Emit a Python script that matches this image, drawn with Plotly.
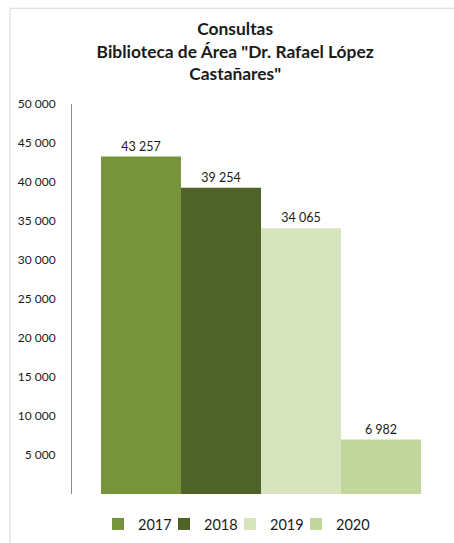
import plotly.graph_objects as go

# ---- data ----
years = ["2017", "2018", "2019", "2020"]
consultas = [43257, 39254, 34065, 6982]
tick_values = [5000, 10000, 15000, 20000, 25000, 30000, 35000, 40000, 45000, 50000]
tick_labels = ["5 000", "10 000", "15 000", "20 000", "25 000", "30 000",
               "35 000", "40 000", "45 000", "50 000"]
category = ["Consultas"]

# ---- styles ----
bar_colors = ["#77933C", "#4F6228", "#D7E4BD", "#C3D69B"]
FONT = "Lato, Carlito, Calibri, 'Open Sans', sans-serif"
PLOT_L, PLOT_W, PLOT_H = 72, 378, 391
legend_px = [98, 164, 230, 296]   # left edge of each legend entry (px)

fig = go.Figure()
for i, (yr, val, col) in enumerate(zip(years, consultas, bar_colors)):
    lg = "legend" if i == 0 else f"legend{i + 1}"
    fig.add_trace(go.Bar(
        x=category, y=[val], name=yr, legend=lg,
        marker=dict(color=col, line=dict(width=0)),
        text=[val], texttemplate="%{y:,}", textposition="outside",
        textfont=dict(family=FONT, size=12.5, color="#1a1a1a"),
        cliponaxis=False, hoverinfo="skip",
    ))

legend_layouts = {}
for i, px in enumerate(legend_px):
    key = "legend" if i == 0 else f"legend{i + 1}"
    legend_layouts[key] = dict(
        orientation="h", x=(px - PLOT_L) / PLOT_W, xanchor="left",
        y=-29 / PLOT_H, yanchor="middle", bgcolor="rgba(0,0,0,0)",
        font=dict(family=FONT, size=14.5, color="#1a1a1a"),
    )

fig.update_layout(
    width=454, height=543,
    margin=dict(l=72, r=4, t=104, b=48),
    paper_bgcolor="white", plot_bgcolor="white",
    separators=". ",
    barmode="group", bargap=0.1534, bargroupgap=0,
    font=dict(family=FONT, color="#1a1a1a"),
    title=dict(
        text="<b>Consultas<br>Biblioteca de Área \"Dr. Rafael López<br>Castañares\"</b>",
        x=0.518, xref="container", xanchor="center",
        y=1 - 35 / 543, yref="container", yanchor="top",
        font=dict(family=FONT, size=17.4, color="#1a1a1a"),
    ),
    xaxis=dict(showticklabels=False, showline=False, showgrid=False,
               zeroline=False, ticks=""),
    yaxis=dict(range=[0, 50000], tickvals=tick_values, ticktext=tick_labels,
               showgrid=False, zeroline=False, showline=True,
               linecolor="#8c8c8c", linewidth=1, ticks="",
               ticklabelstandoff=13,
               tickfont=dict(family=FONT, size=12, color="#1a1a1a")),
    showlegend=True,
    shapes=[dict(type="rect", xref="paper", yref="paper",
                 x0=-62 / PLOT_W, x1=1.3, y0=-0.3, y1=1 + 96 / PLOT_H,
                 line=dict(color="#d9d9d9", width=1), layer="below")],
    **legend_layouts,
)

fig.write_html("out.html", config={"displayModeBar": False},
               post_script="document.body.style.margin='0';document.body.style.overflow='hidden';")
